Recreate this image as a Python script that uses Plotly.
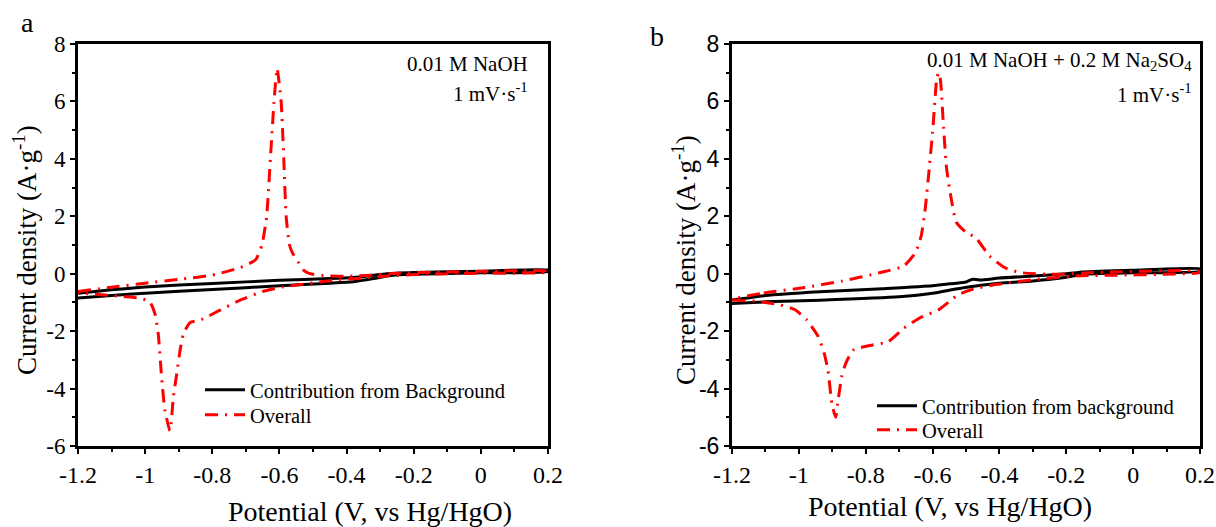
import plotly.graph_objects as go

# ---------------- data ----------------
# Panel a : 0.01 M NaOH
a_bg_up_x = [-1.2, -1.1, -1.0, -0.8, -0.6, -0.45, -0.38, -0.33, -0.28, -0.2, 0.0, 0.2]
a_bg_up_y = [-0.68, -0.56, -0.46, -0.34, -0.23, -0.17, -0.13, -0.07, 0.0, 0.04, 0.09, 0.13]
a_bg_dn_x = [0.2, 0.0, -0.2, -0.27, -0.32, -0.38, -0.45, -0.6, -0.8, -1.0, -1.1, -1.2]
a_bg_dn_y = [0.07, 0.03, -0.02, -0.06, -0.17, -0.28, -0.33, -0.42, -0.55, -0.68, -0.76, -0.85]

a_ov_up_x = [-1.2, -1.1, -1.0, -0.9, -0.8, -0.72, -0.69, -0.67, -0.652, -0.638, -0.627, -0.616,
             -0.607, -0.595, -0.587, -0.58, -0.57, -0.56, -0.549, -0.526, -0.5, -0.46, -0.4,
             -0.33, -0.25, -0.1, 0.2]
a_ov_up_y = [-0.62, -0.47, -0.33, -0.2, -0.05, 0.2, 0.35, 0.5, 1.0, 2.0, 4.0, 6.0,
             7.15, 6.0, 4.0, 2.0, 1.0, 0.7, 0.5, 0.1, -0.02, -0.07, -0.09,
             -0.05, 0.02, 0.06, 0.09]
a_ov_dn_x = [0.2, 0.0, -0.2, -0.28, -0.35, -0.43, -0.52, -0.6, -0.65, -0.717, -0.777, -0.837,
             -0.866, -0.886, -0.896, -0.906, -0.916, -0.926, -0.941, -0.951, -0.961, -0.971,
             -0.986, -1.015, -1.06, -1.12, -1.2]
a_ov_dn_y = [0.05, 0.02, -0.03, -0.08, -0.15, -0.22, -0.35, -0.48, -0.62, -0.92, -1.27, -1.62,
             -1.70, -2.09, -2.67, -3.49, -4.31, -5.47, -4.77, -3.6, -2.09, -1.39,
             -0.98, -0.86, -0.8, -0.74, -0.67]

# Panel b : 0.01 M NaOH + 0.2 M Na2SO4
b_bg_up_x = [-1.2, -1.1, -0.937, -0.75, -0.6, -0.538, -0.5, -0.483, -0.47, -0.455, -0.4, -0.3,
             -0.2, -0.15, 0.0, 0.2]
b_bg_up_y = [-0.92, -0.76, -0.63, -0.52, -0.42, -0.34, -0.29, -0.2, -0.2, -0.22, -0.15, -0.08,
             0.0, 0.06, 0.12, 0.17]
b_bg_dn_x = [0.2, 0.0, -0.15, -0.2, -0.3, -0.4, -0.498, -0.538, -0.6, -0.7, -0.937, -1.1, -1.2]
b_bg_dn_y = [0.08, 0.03, -0.02, -0.12, -0.25, -0.33, -0.47, -0.55, -0.68, -0.8, -0.92, -0.98, -1.04]

b_ov_up_x = [-1.2, -1.105, -0.988, -0.872, -0.756, -0.686, -0.651, -0.634, -0.622, -0.61,
             -0.599, -0.587, -0.581, -0.576, -0.567, -0.558, -0.546, -0.529, -0.5, -0.471,
             -0.43, -0.384, -0.337, -0.233, -0.116, 0.2]
b_ov_up_y = [-0.9, -0.67, -0.49, -0.26, 0.04, 0.27, 0.74, 1.32, 2.26, 3.66,
             5.07, 6.83, 7.0, 6.71, 5.07, 3.66, 2.73, 1.79, 1.44, 1.26,
             0.62, 0.21, 0.04, -0.02, 0.04, 0.09]
b_ov_dn_x = [0.2, -0.174, -0.29, -0.407, -0.477, -0.523, -0.581, -0.64, -0.686, -0.733,
             -0.779, -0.837, -0.86, -0.872, -0.884, -0.89, -0.901, -0.913, -0.924, -0.942,
             -0.977, -1.012, -1.058, -1.128, -1.2]
b_ov_dn_y = [0.04, -0.08, -0.2, -0.37, -0.53, -0.73, -1.25, -1.55, -1.9, -2.37,
             -2.48, -2.66, -3.13, -3.59, -4.53, -5.0, -4.53, -3.36, -2.78, -2.19,
             -1.6, -1.25, -1.08, -0.96, -0.9]

x_tickvals = [-1.2, -1.0, -0.8, -0.6, -0.4, -0.2, 0.0, 0.2]
x_ticktext = ["-1.2", "-1", "-0.8", "-0.6", "-0.4", "-0.2", "0", "0.2"]
y_tickvals = [-6, -4, -2, 0, 2, 4, 6, 8]
y_ticktext = ["-6", "-4", "-2", "0", "2", "4", "6", "8"]

bg_name_a = "Contribution from Background"
bg_name_b = "Contribution from background"
ov_name = "Overall"

# ---------------- figure ----------------
SERIF = "Liberation Serif"
SANS = "Liberation Sans"
RED_DASH = "13px,7px,2px,7px"

fig = go.Figure()

def add_panel(xa, ya, lg1, lg2, bgname, bux, buy, bdx, bdy, oux, ouy, odx, ody):
    fig.add_trace(go.Scatter(x=bux + bdx, y=buy + bdy, mode="lines", name=bgname,
                             line=dict(color="black", width=3, shape="spline", smoothing=0.5),
                             xaxis=xa, yaxis=ya, legend=lg1, showlegend=True))
    fig.add_trace(go.Scatter(x=oux + odx, y=ouy + ody, mode="lines", name=ov_name,
                             line=dict(color="#ff0000", width=3, dash=RED_DASH,
                                       shape="spline", smoothing=0.5),
                             xaxis=xa, yaxis=ya, legend=lg2, showlegend=True))

add_panel("x", "y", "legend", "legend2", bg_name_a, a_bg_up_x, a_bg_up_y, a_bg_dn_x, a_bg_dn_y,
          a_ov_up_x, a_ov_up_y, a_ov_dn_x, a_ov_dn_y)
add_panel("x2", "y2", "legend3", "legend4", bg_name_b, b_bg_up_x, b_bg_up_y, b_bg_dn_x, b_bg_dn_y,
          b_ov_up_x, b_ov_up_y, b_ov_dn_x, b_ov_dn_y)

W, H = 1216, 527
def px(x): return x / W
def py(y): return 1 - y / H

def xaxis_style(domain, anchor):
    return dict(domain=domain, anchor=anchor, range=[-1.2, 0.2], showgrid=False, zeroline=False,
                automargin=False,
                showline=True, linecolor="black", linewidth=3, mirror=True,
                ticks="outside", ticklen=5, tickwidth=2, tickcolor="black",
                tickvals=x_tickvals, ticktext=x_ticktext,
                tickfont=dict(family=SERIF, size=24, color="black"),
                minor=dict(ticks="outside", ticklen=3, tickwidth=2, tickcolor="black", dtick=0.1,
                           showgrid=False))

def yaxis_style(domain, anchor, fam):
    return dict(domain=domain, anchor=anchor, range=[-6, 8], showgrid=False, zeroline=False,
                automargin=False,
                showline=True, linecolor="black", linewidth=3, mirror=True,
                ticks="outside", ticklen=5, tickwidth=2, tickcolor="black",
                tickvals=y_tickvals, ticktext=y_ticktext,
                tickfont=dict(family=fam, size=23, color="black"),
                minor=dict(ticks="outside", ticklen=3, tickwidth=2, tickcolor="black", dtick=1,
                           showgrid=False))

def leg(xp, yp):
    return dict(x=px(xp), y=py(yp), xanchor="left", yanchor="middle",
                bgcolor="rgba(0,0,0,0)", font=dict(family=SERIF, size=20.5, color="black"),
                tracegroupgap=0, itemwidth=40)

ydom = [py(446), py(44)]
fig.update_layout(
    width=W, height=H, margin=dict(l=0, r=0, t=0, b=0, autoexpand=False),
    paper_bgcolor="white", plot_bgcolor="white", showlegend=True,
    font=dict(family=SERIF, color="black"),
    xaxis=xaxis_style([px(78), px(548)], "y"),
    yaxis=yaxis_style(ydom, "x", SERIF),
    xaxis2=xaxis_style([px(732), px(1200)], "y2"),
    yaxis2=yaxis_style(ydom, "x2", SANS),
    legend=leg(200, 390), legend2=leg(200, 415),
    legend3=leg(872, 406), legend4=leg(872, 430),
)

ann = [
    dict(text="a", x=px(27), y=py(22), xanchor="center", yanchor="middle", font=dict(size=28)),
    dict(text="b", x=px(657), y=py(37), xanchor="center", yanchor="middle", font=dict(size=28)),
    dict(text="0.01 M NaOH", x=px(530), y=py(64), xanchor="right", yanchor="middle", font=dict(size=21)),
    dict(text="1 mV·s<sup>-1</sup>", x=px(530), y=py(92), xanchor="right", yanchor="middle", font=dict(size=21)),
    dict(text="0.01 M NaOH + 0.2 M Na<sub>2</sub>SO<sub>4</sub>", x=px(1194), y=py(61),
         xanchor="right", yanchor="middle", font=dict(size=21)),
    dict(text="1 mV·s<sup>-1</sup>", x=px(1194), y=py(93), xanchor="right", yanchor="middle", font=dict(size=21)),
    dict(text="Potential (V, vs Hg/HgO)", x=px(370), y=py(511), xanchor="center", yanchor="middle", font=dict(size=28)),
    dict(text="Potential (V, vs Hg/HgO)", x=px(950), y=py(506), xanchor="center", yanchor="middle", font=dict(size=28)),
    dict(text="Current density (A·g<sup>-1</sup>)", x=px(25), y=py(250), xanchor="center", yanchor="middle",
         textangle=-90, font=dict(size=27)),
    dict(text="Current density (A·g<sup>-1</sup>)", x=px(684), y=py(260), xanchor="center", yanchor="middle",
         textangle=-90, font=dict(size=27)),
]
for a in ann:
    a.update(xref="paper", yref="paper", showarrow=False)
    a["font"] = dict(family=SERIF, color="black", size=a["font"]["size"])
fig.update_layout(annotations=ann)

fig.write_html("out.html")
